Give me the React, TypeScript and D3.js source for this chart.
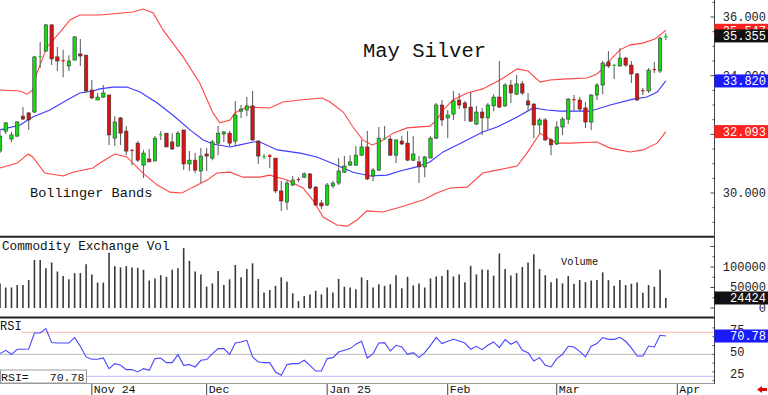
import React from 'react';
import * as d3 from 'd3';

// candles: [open, high, low, close], one per trading day
const ohlc: [number, number, number, number][] = [
  [31.43, 32.11, 31.36, 31.94], [32.11, 32.42, 32.01, 32.39], [31.84, 32.08, 31.74, 31.98], [31.94, 32.45, 31.91, 32.42],
  [32.62, 32.93, 32.49, 32.52], [32.73, 32.76, 32.15, 32.49], [32.76, 34.67, 32.73, 34.64], [34.64, 35.15, 34.26, 34.67],
  [34.84, 35.76, 34.81, 35.73], [35.73, 35.76, 34.36, 34.57], [34.64, 34.98, 34.16, 34.5], [34.53, 34.88, 33.95, 34.5],
  [34.33, 34.7, 34.16, 34.5], [34.53, 35.35, 34.53, 35.32], [34.74, 35.25, 34.33, 34.67], [34.7, 34.7, 33.41, 33.48],
  [33.51, 33.85, 33.2, 33.24], [33.17, 33.41, 33.17, 33.27], [33.27, 33.68, 33.24, 33.41], [33.34, 33.34, 31.64, 31.98],
  [31.87, 32.62, 31.6, 32.42], [32.56, 32.59, 31.64, 32.04], [32.11, 32.28, 31.29, 31.43], [31.47, 31.5, 30.95, 31.45],
  [31.7, 31.77, 31.06, 31.12], [30.95, 31.47, 30.51, 31.36], [31.16, 31.5, 31.06, 31.06], [31.09, 31.94, 31.09, 31.87],
  [31.98, 32.11, 31.81, 32.01], [32.04, 32.04, 31.57, 31.57], [31.74, 32.04, 31.47, 31.5], [31.6, 32.11, 31.57, 32.04],
  [32.15, 32.15, 30.78, 30.99], [30.99, 31.43, 30.75, 31.12], [31.12, 31.36, 30.68, 30.78], [30.75, 31.53, 30.34, 31.26],
  [31.33, 31.53, 30.75, 31.26], [31.19, 31.81, 31.12, 31.74], [31.7, 32.28, 31.29, 32.04], [32.01, 32.11, 31.74, 32.08],
  [32.04, 32.11, 31.6, 31.7], [31.77, 33.14, 31.6, 32.66], [32.79, 33.0, 32.56, 32.86], [32.83, 33.27, 32.62, 32.97],
  [32.97, 33.48, 31.77, 31.81], [31.77, 31.81, 30.99, 31.26], [31.23, 31.33, 31.16, 31.26], [31.29, 31.33, 30.85, 31.23],
  [31.19, 31.19, 30.0, 30.07], [30.07, 30.41, 29.39, 29.73], [29.69, 30.44, 29.42, 30.34], [30.27, 30.58, 30.24, 30.44],
  [30.48, 30.54, 30.37, 30.44], [30.54, 30.71, 30.51, 30.65], [30.65, 30.68, 30.13, 30.17], [30.2, 30.24, 29.56, 29.59],
  [29.66, 29.76, 29.45, 29.56], [29.59, 30.34, 29.56, 30.27], [30.24, 30.41, 30.17, 30.34], [30.34, 31.19, 30.27, 30.75],
  [30.71, 31.26, 30.68, 30.92], [30.95, 31.29, 30.92, 31.06], [30.95, 31.6, 30.92, 31.29], [31.29, 31.81, 31.26, 31.57],
  [31.57, 32.11, 30.44, 30.48], [30.58, 30.85, 30.41, 30.78], [30.78, 32.25, 30.75, 31.87], [31.84, 32.28, 31.81, 31.87],
  [31.84, 31.94, 31.26, 31.29], [31.29, 31.81, 31.02, 31.81], [31.77, 31.94, 31.64, 31.67], [31.7, 32.11, 31.09, 31.12],
  [31.12, 31.94, 31.09, 31.33], [31.06, 31.26, 30.34, 30.89], [30.89, 31.26, 30.54, 31.23], [31.19, 31.94, 31.19, 31.87],
  [31.87, 33.07, 31.84, 33.0], [33.0, 33.17, 32.28, 32.49], [32.56, 32.83, 31.87, 32.66], [32.69, 33.48, 32.49, 33.14],
  [33.17, 33.41, 32.86, 33.0], [33.07, 33.14, 32.45, 32.9], [32.93, 33.44, 32.42, 32.45], [32.35, 32.97, 32.32, 32.76],
  [32.76, 32.9, 31.98, 32.56], [32.56, 33.07, 32.15, 33.0], [32.97, 33.37, 32.79, 33.27], [33.27, 34.5, 32.9, 32.93],
  [32.97, 33.75, 32.93, 33.68], [33.68, 33.85, 33.07, 33.41], [33.37, 34.02, 33.34, 33.72], [33.72, 33.82, 33.34, 33.41],
  [33.14, 33.41, 32.79, 33.0], [33.03, 33.07, 31.87, 32.32], [32.32, 32.56, 32.04, 32.49], [32.49, 32.56, 31.77, 31.81],
  [31.81, 31.87, 31.29, 31.64], [31.67, 32.45, 31.64, 32.25], [32.25, 32.59, 31.98, 32.52], [32.52, 33.24, 32.35, 33.2],
  [33.2, 33.34, 32.79, 33.17], [33.17, 33.27, 32.79, 32.86], [32.9, 33.1, 32.22, 32.42], [32.42, 33.37, 32.15, 33.34],
  [33.34, 33.75, 33.17, 33.68], [33.68, 34.5, 33.37, 34.43], [34.47, 34.84, 34.26, 34.33], [34.36, 34.4, 33.89, 34.37],
  [34.33, 34.94, 34.3, 34.6], [34.6, 34.64, 34.3, 34.36], [34.36, 34.5, 33.75, 34.06], [34.06, 34.09, 33.14, 33.17],
  [33.51, 33.58, 33.34, 33.48], [33.48, 34.26, 33.41, 34.19], [34.23, 34.47, 34.09, 34.19], [34.16, 35.32, 34.09, 35.28],
  [35.3, 35.45, 35.22, 35.355],
];

// volume in contracts
const volume = [
  60000, 50000, 50000, 56000, 56000, 68000, 117000, 117000, 97000, 111000,
  89000, 78000, 70000, 85000, 85000, 107000, 82000, 62000, 62000, 135000,
  102000, 99000, 102000, 99000, 98000, 93000, 67000, 72000, 80000, 76000,
  93000, 97000, 146000, 115000, 89000, 82000, 52000, 60000, 90000, 56000,
  70000, 105000, 75000, 95000, 109000, 71000, 38000, 44000, 54000, 75000,
  64000, 36000, 17000, 29000, 33000, 42000, 33000, 50000, 38000, 71000,
  52000, 50000, 46000, 75000, 68000, 50000, 58000, 54000, 58000, 80000,
  48000, 76000, 55000, 60000, 50000, 72000, 77000, 78000, 93000, 77000,
  82000, 63000, 103000, 82000, 94000, 93000, 79000, 133000, 95000, 79000,
  85000, 100000, 111000, 131000, 95000, 80000, 63000, 72000, 60000, 78000,
  59000, 68000, 63000, 67000, 68000, 87000, 68000, 54000, 68000, 56000,
  59000, 62000, 37000, 56000, 52000, 93000, 24424,
];

const rsi = [
  50.8, 54.5, 50, 55.7, 55.7, 56, 74.2, 74.2, 79.2, 63.3,
  62.8, 62.8, 62.8, 69, 59.1, 47, 44.3, 44.3, 45.8, 33.7,
  39.4, 37.5, 32.6, 32.6, 29.9, 33.7, 31.8, 45.1, 45.8, 40.5,
  40.5, 49.6, 37.5, 38.3, 35.6, 43.2, 44, 50.8, 56.5, 56.5,
  50, 62.8, 64, 65.9, 47, 41.3, 40.5, 40.5, 29.9, 26.1,
  38.3, 39.4, 39.4, 43.2, 37.5, 31, 31, 45.1, 46.2, 52.6,
  54.5, 56.5, 61.5, 64.8, 45.8, 50.8, 62.8, 63.3, 53.8, 60.2,
  58.3, 50, 51.9, 46.2, 51.9, 60.2, 69.3, 62.2, 64.8, 67,
  65.2, 62.8, 55.7, 59.1, 55.3, 60.2, 64, 57.6, 66.7, 61.4,
  64.8, 54.5, 51.9, 42.4, 46.2, 37.5, 35.6, 45.1, 50, 59.1,
  58.3, 53.4, 47, 59.1, 62.2, 69, 67, 67, 69.3, 64.8,
  57.2, 48.1, 48.1, 59.4, 58.3, 71.6, 70.78,
];

// bollinger bands: [bar index, price]
const upperBand: [number, number][] = [
  [0, 33.51], [3.5, 33.48], [4.7, 33.37], [5.7, 33.51], [6.3, 34.02], [8.2, 34.98], [10.5, 35.49], [12.2, 35.9],
  [13.9, 36.07], [17.4, 36.07], [23.2, 36.17], [24.9, 36.27], [26.7, 36.14], [28.4, 35.56], [31.9, 34.64], [34.8, 33.75],
  [37.1, 32.73], [38.3, 32.39], [40.1, 32.49], [40.9, 32.73], [43, 32.93], [47, 32.9], [49.3, 33.1], [52.3, 33.17],
  [56.1, 33.24], [57.5, 33.1], [59.8, 32.76], [61.5, 32.25], [63.2, 31.81], [64.8, 31.64], [66.2, 31.74], [68.5, 32.04],
  [70.9, 32.22], [74.9, 32.28], [76.1, 32.49], [77.2, 32.83], [78.9, 33.17], [81.4, 33.41], [84.1, 33.55], [87.1, 33.85],
  [90.1, 34.23], [92, 34.16], [94.1, 33.78], [95.8, 33.85], [98.8, 33.89], [102.3, 33.92], [104, 34.06], [105.1, 34.26],
  [106.3, 34.53], [108, 34.88], [109.8, 35.05], [112, 35.11], [114.1, 35.25], [115, 35.39], [116, 35.547],
];
const middleBand: [number, number][] = [
  [0, 32.15], [3.5, 32.32], [5.7, 32.59], [8.7, 32.83], [11.7, 33.17], [13.9, 33.41], [16.2, 33.48], [17.4, 33.55],
  [19.7, 33.61], [22.1, 33.61], [24.4, 33.44], [27.4, 33.07], [30.1, 32.66], [33.1, 32.15], [35.4, 31.81], [37.1, 31.67],
  [40.1, 31.57], [41.8, 31.64], [44.1, 31.74], [45.3, 31.74], [48.3, 31.47], [52.3, 31.36], [55.2, 31.23], [58.7, 30.95],
  [61.5, 30.71], [64.5, 30.58], [67.4, 30.61], [69.7, 30.75], [72.6, 30.89], [74.9, 31.06], [77.2, 31.4], [80.7, 31.74],
  [84.1, 32.08], [86.6, 32.25], [90.1, 32.59], [92.9, 32.9], [95.3, 32.83], [97.6, 32.79], [102.8, 32.79], [106.3, 33.0],
  [110.3, 33.2], [112.7, 33.27], [114.5, 33.44], [116, 33.82],
];
const lowerBand: [number, number][] = [
  [0, 30.85], [3, 31.02], [4.9, 31.33], [5.7, 31.23], [7.8, 30.68], [11, 30.58], [12.7, 30.71], [16.2, 30.85],
  [17.4, 31.02], [20, 31.33], [22.1, 31.23], [24.9, 30.68], [27.4, 30.27], [29.6, 30.03], [31.7, 30.0], [33.6, 30.2],
  [36.1, 30.44], [37.8, 30.68], [40.1, 30.71], [42.3, 30.54], [45.3, 30.54], [47, 30.61], [50, 30.44], [52.8, 30.17],
  [54.5, 29.76], [56.3, 29.18], [58.7, 28.91], [60.5, 28.87], [62.2, 29.08], [63.9, 29.39], [66.7, 29.35], [69.2, 29.49],
  [73.7, 29.76], [76.1, 30.0], [78.4, 30.17], [81.4, 30.2], [84.1, 30.68], [86.6, 30.78], [90.1, 30.92], [91.8, 31.36],
  [94.1, 32.04], [94.9, 31.94], [97, 31.7], [99.3, 31.7], [104, 31.74], [106.3, 31.53], [109.8, 31.4], [112, 31.47],
  [114.5, 31.7], [116, 32.093],
];

const dateTicks = [16, 36, 57, 78, 97, 118];
const dateLabels = ['Nov 24', 'Dec', 'Jan 25', 'Feb', 'Mar', 'Apr'];
const priceLabels = [30, 34, 36]; // 32.000 sits fully under the lower-band box
const volumeLabels = [0, 50000, 100000];
const rsiLabels = [25, 50, 75];

const MONO = "'Liberation Mono', 'DejaVu Sans Mono', monospace";
const W = 768;
const H = 395;
const AX = 714.5;

export default function App() {
  const x = d3.scaleLinear().domain([0, 118]).range([0, 677.3]);
  const yP = d3.scaleLinear().domain([30, 36]).range([193, 17]);
  const yV = d3.scaleLinear().domain([0, 100000]).range([308, 267]);
  const yR = d3.scaleLinear().domain([25, 75]).range([376.3, 332.3]);

  const bandLine = d3.line<[number, number]>().x(d => x(d[0])).y(d => yP(d[1]));
  const rsiLine = d3.line<number>().x((_, i) => x(i)).y(d => yR(d));

  const bw = 3.4;
  const last = ohlc[ohlc.length - 1][3];

  const box = (y: number, fill: string, text: string) => (
    <g>
      <rect x={AX} y={y - 6.5} width={W - AX} height={13} fill={fill} />
      <text x={766} y={y + 4.3} textAnchor="end" fill="#fff" fontSize={12}>{text}</text>
    </g>
  );

  return (
    <div style={{ position: 'absolute', left: 0, top: 0 }}>
      <svg width={W} height={H} style={{ display: 'block', background: '#fff' }} fontFamily={MONO}>
        <defs>
          <clipPath id="cp-main"><rect x={0} y={0} width={AX} height={236} /></clipPath>
          <clipPath id="cp-rsi"><rect x={0} y={319} width={AX} height={64} /></clipPath>
        </defs>

        {/* price panel */}
        <g clipPath="url(#cp-main)">
          <path d={bandLine(upperBand) || ''} fill="none" stroke="#ff4444" strokeWidth={1.1} />
          <path d={bandLine(lowerBand) || ''} fill="none" stroke="#ff4444" strokeWidth={1.1} />
          <path d={bandLine(middleBand) || ''} fill="none" stroke="#3b3bff" strokeWidth={1.1} />
          {ohlc.map((d, i) => {
            const [o, h, l, c] = d;
            const up = c >= o;
            const cx = x(i);
            const top = yP(Math.max(o, c));
            const bh = Math.max(yP(Math.min(o, c)) - top, 1.2);
            return (
              <g key={i}>
                <line x1={cx} x2={cx} y1={yP(h)} y2={yP(l)} stroke="#666" strokeWidth={1.1} />
                <rect x={cx - bw / 2} y={top} width={bw} height={bh}
                  fill={up ? '#18d818' : '#d81414'} stroke={bh > 2 ? '#333' : 'none'} strokeWidth={0.6} />
              </g>
            );
          })}
        </g>
        <text x={363} y={57} fontSize={20.5} fill="#111">May Silver</text>
        <text x={30} y={196.5} fontSize={13.6} fill="#111">Bollinger Bands</text>

        {/* volume panel */}
        <text x={2} y={249.5} fontSize={12.7} fill="#111">Commodity Exchange Vol</text>
        <text x={561} y={265} fontSize={10.3} fill="#111">Volume</text>
        {volume.map((v, i) => (
          <line key={i} x1={x(i)} x2={x(i)} y1={yV(0)} y2={yV(v)} stroke="#3a3a3a" strokeWidth={1.6} />
        ))}

        {/* rsi panel */}
        <line x1={0} x2={AX} y1={yR(75)} y2={yR(75)} stroke="#ffb4b4" strokeWidth={1} />
        <line x1={0} x2={AX} y1={yR(50)} y2={yR(50)} stroke="#b8b8b8" strokeWidth={1} />
        <line x1={0} x2={AX} y1={yR(25)} y2={yR(25)} stroke="#b8b8ff" strokeWidth={1} />
        <rect x={0} y={320} width={22} height={13} fill="#fff" />
        <text x={0} y={330} fontSize={12} fill="#111">RSI</text>
        <g clipPath="url(#cp-rsi)">
          <path d={rsiLine(rsi) || ''} fill="none" stroke="#4646ff" strokeWidth={1.1} />
        </g>
        <rect x={0.5} y={370} width={86} height={13} fill="#fff" stroke="#999" strokeWidth={1} />
        <text x={1} y={381} fontSize={11.6} fill="#111" style={{ whiteSpace: 'pre' }}>{`RSI=   ${rsi[rsi.length - 1].toFixed(2)}`}</text>

        {/* panel separators and frame */}
        <line x1={0} x2={AX} y1={236.8} y2={236.8} stroke="#222" strokeWidth={2} />
        <line x1={0} x2={AX} y1={317.6} y2={317.6} stroke="#222" strokeWidth={2} />
        <line x1={0} x2={AX} y1={383.5} y2={383.5} stroke="#999" strokeWidth={1} />
        <line x1={AX} x2={AX} y1={0} y2={384} stroke="#444" strokeWidth={1} />

        {/* right axis ticks */}
        {d3.range(28.5, 36.51, 0.5).map(p => (
          <line key={p} x1={AX - (p % 2 === 0 ? 4 : 2)} x2={AX} y1={yP(p)} y2={yP(p)} stroke="#444" />
        ))}
        {d3.range(0, 150001, 25000).filter(v => yV(v) > 239).map(v => (
          <line key={v} x1={AX - (v % 50000 === 0 ? 4 : 2)} x2={AX} y1={yV(v)} y2={yV(v)} stroke="#444" />
        ))}
        {d3.range(20, 91, 10).filter(v => yR(v) > 320 && yR(v) < 383).map(v => (
          <line key={v} x1={AX - 2} x2={AX} y1={yR(v)} y2={yR(v)} stroke="#444" />
        ))}

        {/* right axis labels */}
        {priceLabels.map(p => (
          <text key={p} x={766} y={yP(p) + 4.3} textAnchor="end" fontSize={12} fill="#222">{p.toFixed(3)}</text>
        ))}
        {volumeLabels.map(v => (
          <text key={v} x={766} y={yV(v) + 3.5} textAnchor="end" fontSize={12} fill="#222">{v}</text>
        ))}
        {rsiLabels.map(v => (
          <text key={v} x={730} y={yR(v) + 2} fontSize={12} fill="#222">{v}</text>
        ))}

        {box(yP(upperBand[upperBand.length - 1][1]), '#ff2020', upperBand[upperBand.length - 1][1].toFixed(3))}
        {box(yP(last), '#111', last.toFixed(3))}
        {box(yP(middleBand[middleBand.length - 1][1]), '#1a1aff', middleBand[middleBand.length - 1][1].toFixed(3))}
        {box(yP(lowerBand[lowerBand.length - 1][1]), '#ff2020', lowerBand[lowerBand.length - 1][1].toFixed(3))}
        {box(yV(volume[volume.length - 1]), '#111', String(volume[volume.length - 1]))}
        {box(yR(rsi[rsi.length - 1]), '#1a1aff', rsi[rsi.length - 1].toFixed(2))}

        {/* date axis */}
        {dateTicks.map((t, i) => (
          <g key={t}>
            <line x1={x(t)} x2={x(t)} y1={384} y2={395} stroke="#444" strokeWidth={1} />
            <text x={x(t) + 2} y={393} fontSize={11.6} fill="#111">{dateLabels[i]}</text>
          </g>
        ))}
        <path d="M757,389.5 L762,386 L762,388 L767,388 L767,391 L762,391 L762,393 Z" fill="#e00000" />
      </svg>
    </div>
  );
}
